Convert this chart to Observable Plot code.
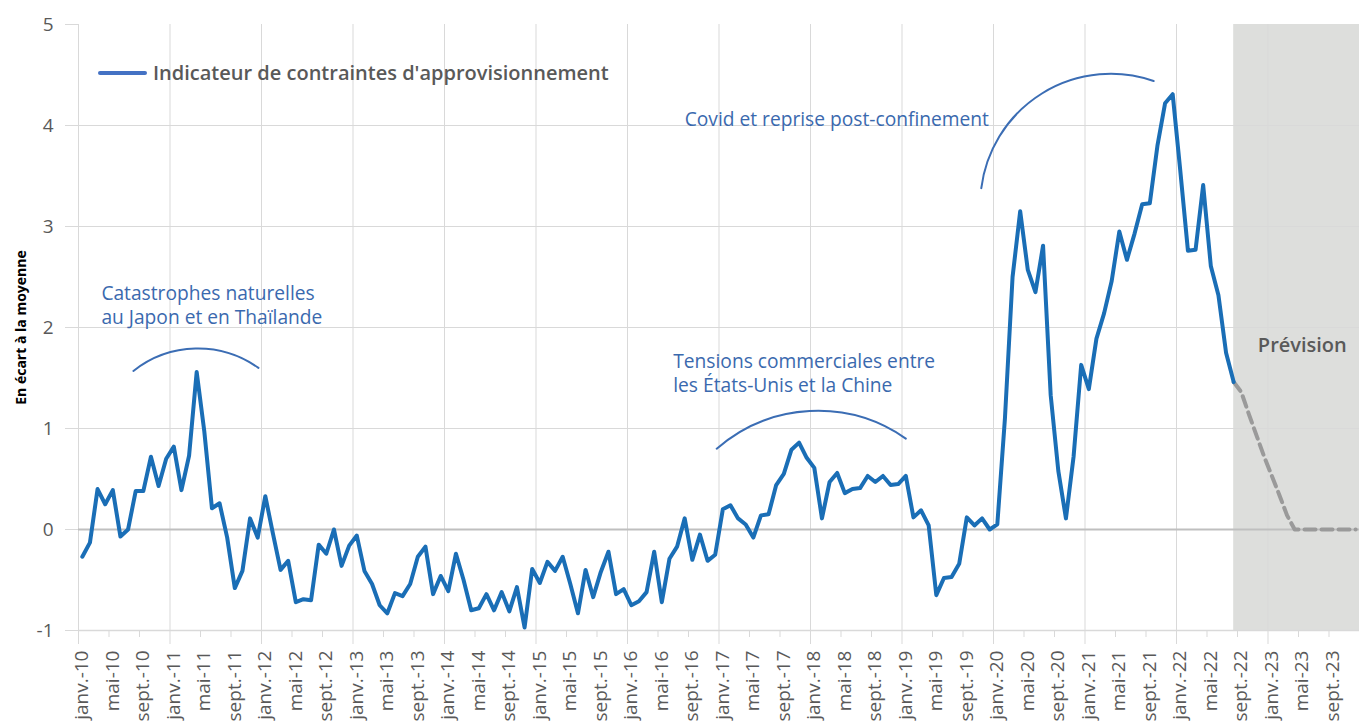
<!DOCTYPE html>
<html lang="fr">
<head>
<meta charset="utf-8">
<script src="https://cdn.jsdelivr.net/npm/d3@7"></script>
<script src="https://cdn.jsdelivr.net/npm/@observablehq/plot@0.6"></script>
<style>
  html, body { margin: 0; padding: 0; background: #fff; }
  #wrap { position: relative; width: 1365px; height: 724px; font-family: "Open Sans", Lato, sans-serif; }
  #legend { position: absolute; left: 98px; top: 59px; display: flex; align-items: center; font-size: 20px; font-weight: 600; color: #595959; }
  #legend .sw { width: 49px; height: 4px; border-radius: 2px; background: #4472c4; margin-right: 6px; }
  g[aria-label="y-axis label"] text { font-weight: 700; font-size: 14px; fill: #000; }
</style>
</head>
<body>
<div id="wrap">
  <div id="chart"></div>
  <div id="legend"><span class="sw"></span><span>Indicateur de contraintes d'approvisionnement</span></div>
</div>
<script>
// Observed indicator, monthly from janv. 2010 to août 2022
const indicator = [
  -0.27, -0.13, 0.40, 0.25, 0.39, -0.07, 0.00, 0.38, 0.38, 0.72, 0.43, 0.70,   // 2010
   0.82, 0.39, 0.73, 1.56, 0.97, 0.21, 0.26, -0.08, -0.58, -0.41, 0.11, -0.08, // 2011
   0.33, -0.04, -0.40, -0.31, -0.72, -0.69, -0.70, -0.15, -0.24, 0.00, -0.36, -0.16, // 2012
  -0.06, -0.41, -0.54, -0.75, -0.83, -0.63, -0.66, -0.54, -0.27, -0.17, -0.64, -0.46, // 2013
  -0.61, -0.24, -0.50, -0.80, -0.78, -0.64, -0.80, -0.62, -0.81, -0.57, -0.97, -0.39, // 2014
  -0.53, -0.32, -0.41, -0.27, -0.54, -0.83, -0.40, -0.67, -0.42, -0.22, -0.64, -0.59, // 2015
  -0.75, -0.71, -0.62, -0.22, -0.72, -0.29, -0.17, 0.11, -0.30, -0.05, -0.31, -0.25, // 2016
   0.20, 0.24, 0.11, 0.05, -0.08, 0.14, 0.15, 0.44, 0.55, 0.79, 0.86, 0.71,   // 2017
   0.61, 0.11, 0.47, 0.56, 0.36, 0.40, 0.41, 0.53, 0.47, 0.53, 0.44, 0.45,    // 2018
   0.53, 0.12, 0.19, 0.04, -0.65, -0.48, -0.47, -0.34, 0.12, 0.04, 0.11, 0.00, // 2019
   0.05, 1.10, 2.50, 3.15, 2.57, 2.35, 2.81, 1.33, 0.58, 0.11, 0.72, 1.63,    // 2020
   1.39, 1.89, 2.14, 2.46, 2.95, 2.67, 2.93, 3.22, 3.23, 3.80, 4.22, 4.31,    // 2021
   3.55, 2.76, 2.77, 3.41, 2.61, 2.32, 1.75, 1.46                             // 2022
];
// Forecast, monthly from août 2022 to déc. 2023
const forecastStart = 151;
const forecast = [1.46, 1.36, 1.14, 0.93, 0.72, 0.53, 0.34, 0.14, 0.00, 0, 0, 0, 0, 0, 0, 0, 0];

const tickLabels = [
  "janv.-10","mai-10","sept.-10","janv.-11","mai-11","sept.-11","janv.-12","mai-12","sept.-12",
  "janv.-13","mai-13","sept.-13","janv.-14","mai-14","sept.-14","janv.-15","mai-15","sept.-15",
  "janv.-16","mai-16","sept.-16","janv.-17","mai-17","sept.-17","janv.-18","mai-18","sept.-18",
  "janv.-19","mai-19","sept.-19","janv.-20","mai-20","sept.-20","janv.-21","mai-21","sept.-21",
  "janv.-22","mai-22","sept.-22","janv.-23","mai-23","sept.-23"
];
const yTicks = [-1, 0, 1, 2, 3, 4, 5];

const annotations = [
  {m: 3.0, v: 2.23, text: "Catastrophes naturelles\nau Japon et en Thaïlande"},
  {m: 78.0, v: 1.555, text: "Tensions commerciales entre\nles États-Unis et la Chine"},
  {m: 79.5, v: 4.07, text: "Covid et reprise post-confinement"}
];
const arcs = [
  {m1: 7.2, v1: 1.57, m2: 23.6, v2: 1.60, bend: 37},
  {m1: 83.7, v1: 0.80, m2: 108.5, v2: 0.90, bend: 38},
  {m1: 118.4, v1: 3.38, m2: 141.0, v2: 4.44, bend: 51}
];

const observed = indicator.map((v, i) => ({u: i + 0.5, v}));
const projected = forecast.map((v, i) => ({u: forecastStart + i + 0.5, v}));
const nMonths = 168;
const yearBounds = d3.range(0, nMonths, 12);
const tickBounds = d3.range(0, nMonths, 4);
const minorBounds = tickBounds.filter(m => m % 12 !== 0);
const labelPos = tickBounds.map(m => m + 0.5);
const labelMap = new Map(labelPos.map((p, i) => [p, tickLabels[i]]));

const annColor = "#3a69ae";
const chart = Plot.plot({
  width: 1365,
  height: 724,
  marginLeft: 78,
  marginRight: 6,
  marginTop: 24,
  marginBottom: 94,
  style: {fontFamily: "'Open Sans', Lato, sans-serif", fontSize: "18px", color: "#595959", background: "transparent"},
  x: {type: "linear", domain: [0, nMonths]},
  y: {domain: [-1, 5]},
  marks: [
    Plot.rect([{x1: forecastStart + 0.5, x2: nMonths}], {x1: "x1", x2: "x2", fill: "#dddedc"}),
    Plot.ruleY([1, 2, 3, 4], {stroke: "#d9d9d9", strokeWidth: 1}),
    Plot.ruleX(yearBounds, {stroke: "#d9d9d9", strokeWidth: 1}),
    Plot.ruleY([-1], {stroke: "#d9d9d9", strokeWidth: 1.5}),
    Plot.ruleY([0], {stroke: "#bfbfbf", strokeWidth: 2}),
    Plot.axisY(yTicks, {tickSize: 13, tickPadding: 12, stroke: "#d9d9d9", fill: "#595959", fontSize: 19,
      tickFormat: d => String(d),
      label: "En écart à la moyenne", labelAnchor: "center", labelArrow: "none", labelOffset: 62}),
    Plot.axisX(yearBounds, {tickSize: 14, stroke: "#d9d9d9", fill: "none", label: null}),
    Plot.axisX(minorBounds, {tickSize: 7, stroke: "#d9d9d9", fill: "none", label: null}),
    Plot.axisX(labelPos, {tickSize: 0, tickRotate: -90, tickPadding: 20, fill: "#595959", fontSize: 19,
      tickFormat: d => labelMap.get(d), label: null}),
    Plot.line(projected, {x: "u", y: "v", stroke: "#9a9a9a", strokeWidth: 4, strokeDasharray: "11,6"}),
    Plot.line(observed, {x: "u", y: "v", stroke: "#1a6eb6", strokeWidth: 4, strokeLinejoin: "round"}),
    ...arcs.map(a => Plot.arrow([a], {x1: "m1", y1: "v1", x2: "m2", y2: "v2", bend: a.bend, headLength: 0,
      stroke: "#3b6db4", strokeWidth: 2})),
    Plot.text(annotations, {x: "m", y: "v", text: "text", textAnchor: "start", fill: annColor, fontSize: 19.2, lineHeight: 1.25}),
    Plot.text([{m: 160.5, v: 1.82, t: "Prévision"}], {x: "m", y: "v", text: "t", fill: "#595959", fontSize: 20, fontWeight: 600})
  ]
});
document.getElementById("chart").appendChild(chart);
</script>
</body>
</html>
